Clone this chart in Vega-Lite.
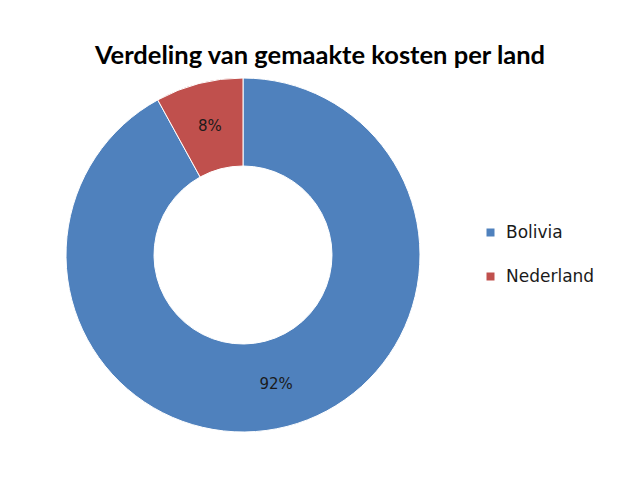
{
  "$schema": "https://vega.github.io/schema/vega-lite/v6.json",
  "width": 360,
  "height": 360,
  "autosize": {"type": "none"},
  "padding": {"left": 63, "top": 75, "right": 195, "bottom": 55},
  "background": "white",
  "config": {"view": {"stroke": null}, "font": "DejaVu Sans"},
  "title": {
    "text": "Verdeling van gemaakte kosten per land",
    "fontSize": 25.5,
    "fontWeight": "bold",
    "font": "Lato",
    "color": "#000000",
    "dx": 77,
    "offset": 6
  },
  "data": {"values": [
    {"land": "Bolivia", "aandeel": 0.92},
    {"land": "Nederland", "aandeel": 0.08}
  ]},
  "encoding": {
    "theta": {"field": "aandeel", "type": "quantitative", "stack": true},
    "order": {"field": "land", "sort": "ascending"}
  },
  "layer": [
    {
      "mark": {"type": "arc", "outerRadius": 177, "innerRadius": 89, "stroke": "white", "strokeWidth": 1},
      "encoding": {
        "color": {
          "field": "land",
          "type": "nominal",
          "scale": {"domain": ["Bolivia", "Nederland"], "range": ["#4F81BD", "#C0504D"]},
          "legend": {
            "title": null,
            "orient": "none",
            "legendX": 419,
            "legendY": 149,
            "symbolType": "square",
            "symbolSize": 64,
            "symbolStrokeWidth": 0,
            "labelFont": "DejaVu Sans",
            "labelFontSize": 17,
            "labelColor": "#1a1a1a",
            "labelOffset": 7,
            "rowPadding": 26
          }
        }
      }
    },
    {
      "mark": {"type": "text", "radius": 133, "fontSize": 15, "font": "DejaVu Sans", "color": "#1a1a1a"},
      "encoding": {
        "text": {"field": "aandeel", "type": "quantitative", "format": ".0%"},
        "detail": {"field": "land"}
      }
    }
  ]
}
